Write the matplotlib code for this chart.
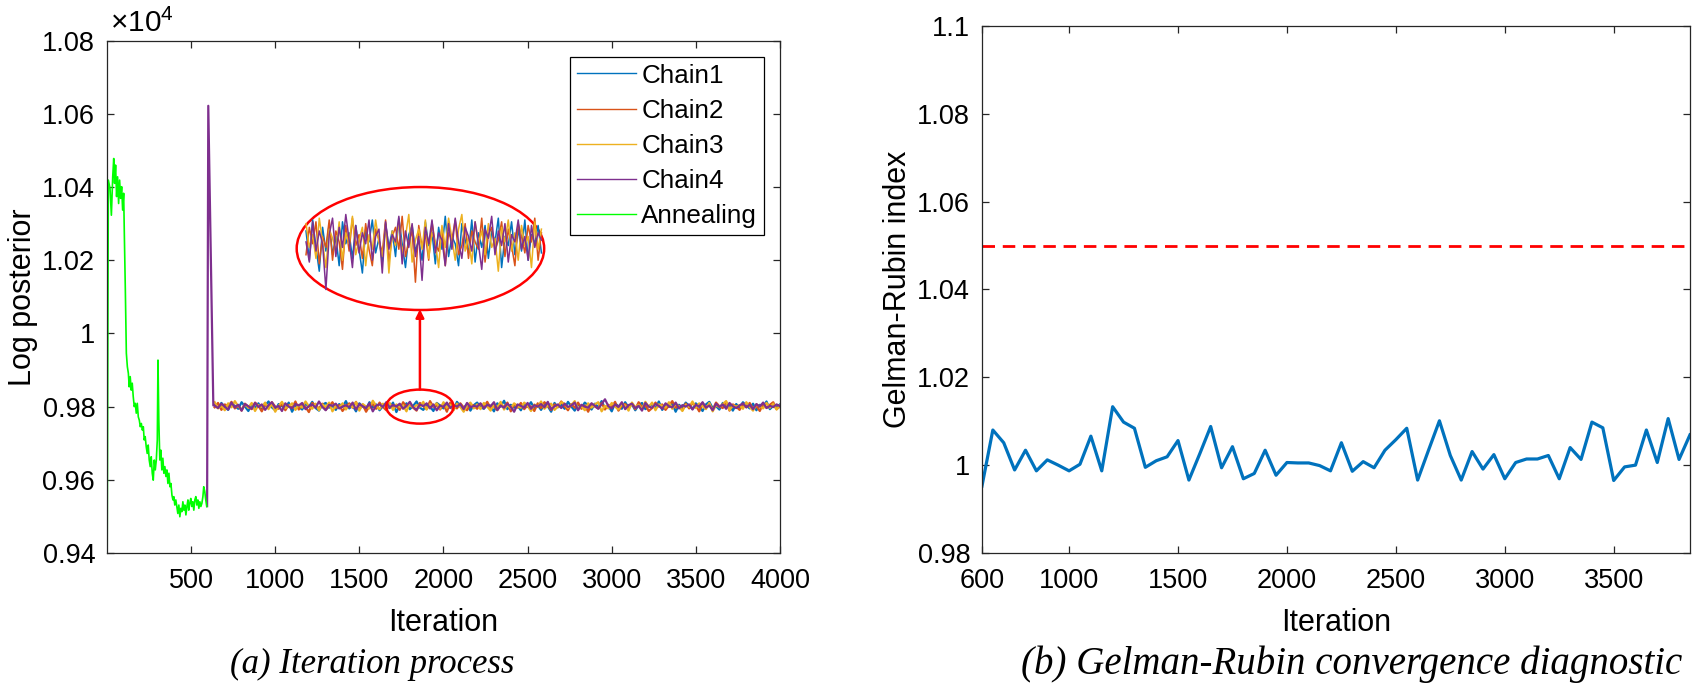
import numpy as np
import matplotlib
matplotlib.use("Agg")
import matplotlib.pyplot as plt
from matplotlib.patches import Ellipse
from matplotlib.ticker import FuncFormatter

plt.rcParams['font.family'] = ['Liberation Sans', 'DejaVu Sans']
plt.rcParams['mathtext.fontset'] = 'custom'
plt.rcParams['mathtext.rm'] = 'Liberation Sans'
plt.rcParams['mathtext.it'] = 'Liberation Sans:italic'

# ---------------- data: (a) iteration process ----------------
annealing_iter = [1, 8, 18, 26, 34, 40, 45, 51, 57, 63, 69, 75, 81, 87, 93, 99,
                  103, 109, 115, 121, 127, 132, 138, 144, 150, 156, 162, 168, 174, 180,
                  186, 192, 198, 204, 210, 216, 221, 227, 233, 239, 245, 251, 257, 263,
                  269, 275, 281, 287, 293, 299, 303, 308, 314, 320, 326, 332, 338, 344,
                  350, 356, 362, 368, 374, 380, 386, 392, 397, 403, 409, 415, 421, 427,
                  433, 439, 445, 451, 457, 463, 469, 475, 481, 486, 492, 498, 504, 510,
                  516, 522, 528, 534, 540, 546, 552, 558, 564, 570, 575, 581, 587, 593]
annealing = [9400, 10419, 10396, 10323, 10428, 10478, 10410, 10460, 10374, 10428, 10355,
             10419, 10369, 10401, 10337, 10383, 10273, 10119, 9946, 9909, 9891, 9854, 9882,
             9845, 9864, 9827, 9800, 9809, 9782, 9809, 9772, 9763, 9745, 9754, 9736, 9745,
             9709, 9718, 9691, 9672, 9695, 9654, 9636, 9663, 9618, 9599, 9654, 9627, 9654,
             9709, 9927, 9763, 9654, 9681, 9627, 9659, 9618, 9636, 9609, 9627, 9590, 9618,
             9581, 9590, 9558, 9545, 9554, 9531, 9545, 9527, 9508, 9531, 9499, 9522, 9513,
             9540, 9517, 9531, 9504, 9527, 9545, 9517, 9536, 9549, 9527, 9540, 9517, 9545,
             9554, 9531, 9545, 9522, 9540, 9527, 9536, 9554, 9581, 9568, 9545, 9527]

chain_iter = np.arange(640, 4001, 20)

chain1 = [9805, 9796, 9810, 9799, 9791, 9808, 9802, 9794, 9812, 9800, 9788, 9806, 9797,
          9809, 9793, 9803, 9814, 9798, 9790, 9807, 9801, 9795, 9811, 9786, 9804, 9799,
          9792, 9808, 9800, 9813, 9796, 9789, 9805, 9810, 9797, 9802, 9791, 9807, 9799,
          9815, 9795, 9803, 9787, 9809, 9800, 9794, 9812, 9798, 9806, 9790, 9801, 9808,
          9796, 9811, 9785, 9804, 9799, 9809, 9793, 9802, 9814, 9797, 9791, 9806, 9800,
          9788, 9810, 9803, 9795, 9808, 9799, 9792, 9813, 9801, 9796, 9807, 9789, 9804,
          9811, 9798, 9794, 9806, 9802, 9787, 9809, 9800, 9816, 9793, 9805, 9797, 9803,
          9790, 9808, 9799, 9812, 9795, 9804, 9791, 9807, 9801, 9786, 9810, 9798, 9805,
          9794, 9813, 9800, 9789, 9806, 9797, 9811, 9803, 9792, 9808, 9799, 9815, 9796,
          9802, 9787, 9809, 9801, 9794, 9812, 9798, 9806, 9790, 9804, 9810, 9793, 9800,
          9807, 9795, 9814, 9791, 9803, 9799, 9808, 9786, 9805, 9797, 9811, 9802, 9794,
          9809, 9800, 9788, 9806, 9813, 9796, 9801, 9792, 9810, 9798, 9804, 9789, 9807,
          9797, 9812, 9803, 9795, 9808, 9790, 9805, 9800, 9814, 9793, 9802, 9799, 9806]
chain2 = [9798, 9810, 9791, 9806, 9801, 9813, 9795, 9803, 9789, 9808, 9799, 9793, 9811,
          9802, 9787, 9807, 9796, 9812, 9800, 9794, 9809, 9790, 9805, 9797, 9814, 9792,
          9806, 9799, 9785, 9810, 9803, 9795, 9808, 9791, 9801, 9812, 9796, 9804, 9788,
          9800, 9809, 9797, 9813, 9793, 9805, 9786, 9802, 9807, 9794, 9811, 9799, 9790,
          9808, 9795, 9803, 9791, 9812, 9800, 9806, 9797, 9789, 9810, 9802, 9793, 9815,
          9799, 9804, 9792, 9807, 9786, 9811, 9801, 9795, 9809, 9798, 9790, 9806, 9803,
          9794, 9808, 9800, 9813, 9796, 9802, 9790, 9805, 9799, 9811, 9787, 9807, 9797,
          9810, 9793, 9804, 9800, 9788, 9809, 9796, 9812, 9803, 9791, 9806, 9799, 9814,
          9801, 9790, 9807, 9797, 9811, 9794, 9803, 9786, 9808, 9800, 9795, 9810, 9792,
          9805, 9799, 9813, 9789, 9802, 9807, 9796, 9809, 9793, 9812, 9798, 9804, 9788,
          9796, 9811, 9800, 9806, 9791, 9803, 9815, 9797, 9802, 9790, 9808, 9795, 9810,
          9803, 9787, 9809, 9799, 9805, 9792, 9811, 9801, 9796, 9813, 9789, 9806, 9800,
          9791, 9807, 9798, 9810, 9794, 9802, 9788, 9808, 9797, 9805, 9812, 9793, 9801]
chain3 = [9812, 9795, 9803, 9790, 9809, 9798, 9815, 9801, 9792, 9806, 9797, 9810, 9788,
          9804, 9799, 9811, 9793, 9807, 9786, 9802, 9813, 9796, 9800, 9809, 9791, 9805,
          9797, 9814, 9801, 9794, 9808, 9790, 9806, 9799, 9811, 9787, 9803, 9796, 9809,
          9792, 9805, 9798, 9812, 9789, 9807, 9800, 9795, 9816, 9802, 9793, 9808, 9797,
          9810, 9791, 9806, 9799, 9803, 9787, 9811, 9796, 9804, 9800, 9813, 9792, 9807,
          9801, 9809, 9794, 9812, 9797, 9805, 9790, 9808, 9799, 9786, 9803, 9811, 9795,
          9806, 9793, 9810, 9800, 9789, 9807, 9798, 9813, 9792, 9804, 9796, 9809, 9801,
          9797, 9811, 9802, 9788, 9806, 9799, 9814, 9794, 9803, 9808, 9791, 9800, 9812,
          9808, 9796, 9804, 9815, 9793, 9801, 9790, 9809, 9797, 9806, 9812, 9787, 9802,
          9795, 9810, 9800, 9792, 9807, 9803, 9789, 9811, 9798, 9805, 9794, 9813, 9799,
          9811, 9790, 9806, 9802, 9797, 9812, 9794, 9808, 9800, 9788, 9805, 9799, 9814,
          9796, 9809, 9801, 9793, 9810, 9787, 9804, 9798, 9807, 9815, 9791, 9803, 9800,
          9804, 9794, 9812, 9799, 9789, 9806, 9801, 9795, 9810, 9797, 9808, 9792, 9803]
chain4 = [9803, 9796, 9808, 9800, 9792, 9811, 9798, 9805, 9789, 9807, 9801, 9794, 9810,
          9799, 9806, 9791, 9804, 9812, 9797, 9802, 9788, 9809, 9800, 9795, 9807, 9803,
          9810, 9793, 9801, 9806, 9797, 9814, 9799, 9790, 9805, 9802, 9808, 9795, 9800,
          9804, 9798, 9811, 9792, 9807, 9801, 9796, 9809, 9787, 9803, 9806, 9799, 9812,
          9797, 9805, 9800, 9808, 9794, 9802, 9813, 9798, 9791, 9806, 9801, 9809, 9795,
          9806, 9790, 9803, 9799, 9811, 9796, 9804, 9800, 9807, 9793, 9810, 9798, 9802,
          9800, 9809, 9795, 9805, 9801, 9812, 9791, 9803, 9797, 9808, 9799, 9786, 9806,
          9802, 9797, 9810, 9794, 9804, 9800, 9807, 9798, 9813, 9792, 9801, 9806, 9796,
          9808, 9799, 9803, 9811, 9790, 9805, 9800, 9797, 9809, 9802, 9794, 9807, 9820,
          9801, 9795, 9806, 9799, 9812, 9793, 9804, 9808, 9796, 9802, 9789, 9810, 9800,
          9797, 9807, 9802, 9794, 9809, 9801, 9798, 9811, 9795, 9804, 9800, 9806, 9792,
          9805, 9800, 9812, 9797, 9803, 9790, 9808, 9799, 9806, 9794, 9810, 9801, 9796,
          9803, 9809, 9798, 9805, 9793, 9807, 9800, 9811, 9796, 9802, 9799, 9806, 9801]
# chain 4 starts from the annealing end and spikes before settling
chain4_start_iter = [595, 602, 632]
chain4_start = [9528, 10622, 9803]

# magnified segment shown inside the big ellipse
zoom_iter = np.arange(1670, 2030, 5)
zoom_chain1 = [9806, 9790, 9812, 9797, 9784, 9808, 9795, 9810, 9793, 9803,
               9787, 9811, 9799, 9805, 9791, 9809, 9796, 9783, 9807, 9800,
               9812, 9794, 9802, 9789, 9810, 9797, 9806, 9792, 9813, 9799,
               9786, 9804, 9809, 9795, 9801, 9790, 9811, 9798, 9805, 9788,
               9808, 9796, 9814, 9792, 9803, 9799, 9787, 9810, 9801, 9794,
               9812, 9789, 9805, 9797, 9809, 9791, 9806, 9800, 9813, 9786,
               9803, 9798, 9811, 9793, 9807, 9795, 9812, 9790, 9804, 9799,
               9809, 9794]
zoom_chain2 = [9793, 9808, 9799, 9811, 9788, 9803, 9797, 9812, 9790, 9806,
               9800, 9785, 9809, 9795, 9813, 9798, 9804, 9791, 9810, 9796,
               9787, 9807, 9801, 9794, 9812, 9789, 9803, 9808, 9796, 9814,
               9792, 9800, 9806, 9778, 9809, 9797, 9804, 9790, 9811, 9799,
               9795, 9808, 9787, 9805, 9801, 9812, 9793, 9798, 9810, 9791,
               9806, 9800, 9796, 9813, 9789, 9804, 9808, 9795, 9801, 9811,
               9792, 9807, 9798, 9787, 9810, 9803, 9794, 9809, 9800, 9813,
               9790, 9805]
zoom_chain3 = [9810, 9797, 9804, 9791, 9813, 9800, 9786, 9807, 9802, 9795,
               9811, 9790, 9805, 9799, 9814, 9793, 9801, 9808, 9787, 9804,
               9796, 9812, 9800, 9792, 9809, 9783, 9806, 9798, 9811, 9794,
               9803, 9815, 9789, 9801, 9807, 9796, 9812, 9791, 9805, 9800,
               9786, 9809, 9797, 9813, 9802, 9790, 9807, 9815, 9795, 9803,
               9788, 9811, 9799, 9806, 9793, 9810, 9797, 9802, 9784, 9808,
               9800, 9812, 9795, 9805, 9790, 9809, 9798, 9803, 9786, 9811,
               9796, 9807]
zoom_chain4 = [9800, 9789, 9811, 9795, 9806, 9799, 9774, 9804, 9813, 9792,
               9808, 9797, 9815, 9801, 9786, 9809, 9794, 9805, 9799, 9812,
               9790, 9803, 9807, 9783, 9811, 9796, 9804, 9800, 9814, 9788,
               9806, 9797, 9810, 9792, 9803, 9779, 9808, 9799, 9812, 9794,
               9805, 9801, 9787, 9810, 9796, 9813, 9800, 9791, 9808, 9803,
               9795, 9811, 9799, 9785, 9807, 9802, 9814, 9793, 9806, 9798,
               9810, 9789, 9804, 9800, 9812, 9796, 9803, 9790, 9809, 9797,
               9805, 9801]

chain_labels = ['Chain1', 'Chain2', 'Chain3', 'Chain4', 'Annealing']
chain_colors = ['#0072BD', '#D95319', '#EDB120', '#7E2F8E']

# ---------------- data: (b) Gelman-Rubin ----------------
gr_iter = np.arange(600, 3851, 50)
gr_index = [0.9952, 1.0080, 1.0051, 0.9989, 1.0034, 0.9987, 1.0012, 1.0000, 0.9987, 1.0002,
            1.0066, 0.9987, 1.0133, 1.0098, 1.0084, 0.9995, 1.0010, 1.0019, 1.0056, 0.9966,
            1.0026, 1.0088, 0.9994, 1.0042, 0.9969, 0.9981, 1.0034, 0.9977, 1.0006, 1.0005,
            1.0005, 0.9999, 0.9987, 1.0051, 0.9986, 1.0008, 0.9994, 1.0034, 1.0058, 1.0084,
            0.9966, 1.0034, 1.0101, 1.0022, 0.9966, 1.0031, 0.9991, 1.0024, 0.9969, 1.0006,
            1.0014, 1.0014, 1.0022, 0.9969, 1.0040, 1.0013, 1.0098, 1.0085, 0.9965, 0.9996,
            1.0000, 1.0080, 1.0006, 1.0106, 1.0013, 1.0069]
gr_threshold = 1.05

TICK_FS = 19.5
LABEL_FS = 22
AX_COLOR = '#262626'


def style_axes(ax):
    for sp in ax.spines.values():
        sp.set_color(AX_COLOR)
        sp.set_linewidth(0.9)
    ax.tick_params(direction='in', top=True, right=True, length=5, width=0.9,
                   colors=AX_COLOR, labelcolor='black', labelsize=TICK_FS)
    ax.tick_params(axis='y', pad=8.5)
    ax.tick_params(axis='x', pad=11)


fig = plt.figure(figsize=(16.93, 6.94), dpi=100)

# ---------------- (a) ----------------
ax = fig.add_axes([0.0632, 0.2032, 0.3975, 0.7382])
style_axes(ax)
chains = [chain1, chain2, chain3, chain4]
for i in range(3):
    ax.plot(chain_iter, chains[i], color=chain_colors[i], lw=1.6, label=chain_labels[i])
ax.plot(np.concatenate([chain4_start_iter, chain_iter]), chain4_start + chain4,
        color=chain_colors[3], lw=1.6, label=chain_labels[3])
ax.plot(annealing_iter, annealing, color='#00FF00', lw=1.2, label=chain_labels[4])

ax.set_xlim(0, 4000)
ax.set_ylim(9400, 10800)
ax.set_xticks(np.arange(500, 4001, 500))
ax.set_yticks(np.arange(9400, 10801, 200))
ax.yaxis.set_major_formatter(FuncFormatter(lambda v, p: f'{v / 1e4:g}'))
ax.set_xlabel('Iteration', fontsize=LABEL_FS, labelpad=10)
ax.set_ylabel('Log posterior', fontsize=LABEL_FS, labelpad=3)
ax.text(0.004, 1.006, r'$\times10^{4}$', transform=ax.transAxes, ha='left', va='bottom',
        fontsize=21.5)

leg = ax.legend(loc='upper right', bbox_to_anchor=(0.976, 0.968), borderaxespad=0,
                fontsize=18.7, fancybox=False, edgecolor='black', framealpha=1,
                handlelength=2.3, handletextpad=0.2, labelspacing=0.43, borderpad=0.25)
leg.get_frame().set_linewidth(0.9)
for h in leg.get_lines():
    h.set_linewidth(1.0)

# highlight ellipses and arrow
ax.add_patch(Ellipse((1860, 9800), 400, 93, fill=False, ec='red', lw=1.8, zorder=5))
ax.add_patch(Ellipse((1863, 10232), 1471, 336, fill=False, ec='red', lw=1.8, zorder=5))
ax.annotate('', xy=(1860, 10066), xytext=(1860, 9847),
            arrowprops=dict(arrowstyle='-|>', color='red', lw=1.8, mutation_scale=12,
                            shrinkA=0, shrinkB=0), zorder=5)

ins = ax.inset_axes([1175, 10110, 1415, 280], transform=ax.transData)
zooms = [zoom_chain1, zoom_chain2, zoom_chain3, zoom_chain4]
for i in range(4):
    ins.plot(zoom_iter, zooms[i], color=chain_colors[i], lw=1.1)
ins.set_xlim(zoom_iter[0] - 2, zoom_iter[-1] + 2)
ins.set_ylim(9772, 9828)
ins.set_axis_off()
ins.patch.set_alpha(0)

# ---------------- (b) ----------------
ax2 = fig.add_axes([0.5800, 0.2032, 0.4182, 0.7594])
style_axes(ax2)
ax2.plot(gr_iter, gr_index, color='#0072BD', lw=2.3)
ax2.axhline(gr_threshold, color='#FF0000', lw=2.0, ls='--', dashes=(4.5, 2.8))
ax2.set_xlim(600, 3850)
ax2.set_ylim(0.98, 1.1)
ax2.set_xticks([600, 1000, 1500, 2000, 2500, 3000, 3500])
ax2.set_yticks(np.arange(0.98, 1.1001, 0.02))
ax2.yaxis.set_major_formatter(FuncFormatter(lambda v, p: f'{v:g}'))
ax2.set_xlabel('Iteration', fontsize=LABEL_FS, labelpad=10)
ax2.set_ylabel('Gelman-Rubin index', fontsize=LABEL_FS, labelpad=3)

# captions
cap = dict(fontstyle='italic', family='Liberation Serif', ha='center', va='center')
fig.text(372 / 1693, 1 - 664 / 694, '(a) Iteration process', fontsize=25, **cap)
fig.text(1352 / 1693, 1 - 664 / 694, '(b) Gelman-Rubin convergence diagnostic',
         fontsize=28, **cap)

fig.savefig('out.png', dpi=100)
